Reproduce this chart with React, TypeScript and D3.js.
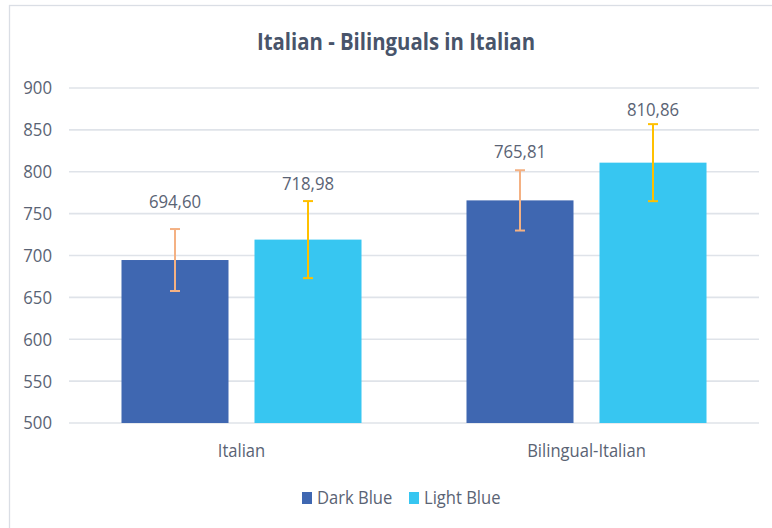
import React, { useEffect, useRef } from "react";
import * as d3 from "d3";

const categories = ["Italian", "Bilingual-Italian"];
const seriesNames = ["Dark Blue", "Light Blue"];
const darkBlueValues = [694.6, 765.81];
const lightBlueValues = [718.98, 810.86];
const darkBlueErrors = [37, 36];
const lightBlueErrors = [46, 46];
const yTickValues = [500, 550, 600, 650, 700, 750, 800, 850, 900];
const titleText = "Italian - Bilinguals in Italian";

const W = 772;
const H = 528;
const FONT = "'Open Sans', 'Noto Sans', sans-serif";
const TEXT_COLOR = "#5a6374";
const TITLE_COLOR = "#48546a";
const seriesColors = ["#3f67b1", "#37c6f1"];
const errorColors = ["#f4b183", "#ffc000"];
const labelGaps = [[21, 12], [11, 8]];

const locale = d3.formatLocale({ decimal: ",", thousands: ".", grouping: [3], currency: ["", "€"] });
const fmt = locale.format(".2f");

export default function App() {
  const ref = useRef<SVGSVGElement | null>(null);

  useEffect(() => {
    const svg = d3.select(ref.current);
    svg.selectAll("*").remove();

    const plotLeft = 69, plotRight = 759, plotTop = 88, plotBottom = 423;

    const y = d3.scaleLinear().domain([500, 900]).range([plotBottom, plotTop]);
    const x0 = d3.scaleBand<string>().domain(categories).range([plotLeft, plotRight]).padding(0);
    const x1 = d3.scaleBand<string>().domain(seriesNames).range([0, x0.bandwidth()])
      .paddingInner(0.1955).paddingOuter(0.3947);

    // chart border
    svg.append("rect").attr("x", 9.5).attr("y", 5.5).attr("width", 820).attr("height", 600)
      .attr("fill", "#ffffff").attr("stroke", "#dadee5").attr("stroke-width", 1.3);

    // gridlines
    svg.append("g").selectAll("line").data(yTickValues).join("line")
      .attr("x1", plotLeft).attr("x2", plotRight)
      .attr("y1", (d) => y(d)).attr("y2", (d) => y(d))
      .attr("stroke", "#dfe3e9").attr("stroke-width", 1.6);

    const squeeze = (sel: any, factor: number) => {
      sel.each(function (this: SVGTextElement) {
        const len = this.getComputedTextLength();
        this.setAttribute("textLength", String(len * factor));
        this.setAttribute("lengthAdjust", "spacingAndGlyphs");
      });
    };

    // y tick labels
    const yt = svg.append("g").selectAll("text").data(yTickValues).join("text")
      .attr("x", 52).attr("y", (d) => y(d)).attr("dy", "0.36em")
      .attr("text-anchor", "end").attr("font-family", FONT).attr("font-size", 18)
      .attr("fill", TEXT_COLOR).text((d) => String(d));
    squeeze(yt, 0.93);

    const seriesData = [
      { name: seriesNames[0], values: darkBlueValues, errors: darkBlueErrors },
      { name: seriesNames[1], values: lightBlueValues, errors: lightBlueErrors },
    ];

    seriesData.forEach((s, si) => {
      const g = svg.append("g");
      const items = categories.map((c, ci) => ({ c, v: s.values[ci], e: s.errors[ci], ci }));
      g.selectAll("rect").data(items).join("rect")
        .attr("x", (d) => x0(d.c)! + x1(s.name)!)
        .attr("width", x1.bandwidth())
        .attr("y", (d) => y(d.v))
        .attr("height", (d) => y(500) - y(d.v))
        .attr("fill", seriesColors[si]);

      const cx = (d: any) => x0(d.c)! + x1(s.name)! + x1.bandwidth() / 2;
      const eg = g.append("g").attr("stroke", errorColors[si]).attr("stroke-width", 2);
      eg.selectAll("line.v").data(items).join("line").attr("class", "v")
        .attr("x1", cx).attr("x2", cx)
        .attr("y1", (d) => y(d.v + d.e)).attr("y2", (d) => y(d.v - d.e));
      eg.selectAll("line.t").data(items).join("line").attr("class", "t")
        .attr("x1", (d) => cx(d) - 5).attr("x2", (d) => cx(d) + 5)
        .attr("y1", (d) => y(d.v + d.e)).attr("y2", (d) => y(d.v + d.e));
      eg.selectAll("line.b").data(items).join("line").attr("class", "b")
        .attr("x1", (d) => cx(d) - 5).attr("x2", (d) => cx(d) + 5)
        .attr("y1", (d) => y(d.v - d.e)).attr("y2", (d) => y(d.v - d.e));

      const lt = g.selectAll("text").data(items).join("text")
        .attr("x", cx)
        .attr("y", (d) => y(d.v + d.e) - labelGaps[si][d.ci])
        .attr("text-anchor", "middle").attr("font-family", FONT).attr("font-size", 18)
        .attr("fill", TEXT_COLOR).text((d) => fmt(d.v));
      squeeze(lt, 0.93);
    });

    // category labels
    const ct = svg.append("g").selectAll("text").data(categories).join("text")
      .attr("x", (d) => x0(d)! + x0.bandwidth() / 2).attr("y", 457)
      .attr("text-anchor", "middle").attr("font-family", FONT).attr("font-size", 18)
      .attr("fill", TEXT_COLOR).text((d) => d);
    squeeze(ct, 0.92);

    // title
    const tt = svg.append("text").attr("x", 396).attr("y", 50).attr("text-anchor", "middle")
      .attr("font-family", FONT).attr("font-size", 24).attr("font-weight", 700)
      .attr("fill", TITLE_COLOR).text(titleText);
    tt.attr("textLength", 278).attr("lengthAdjust", "spacingAndGlyphs");

    // legend
    const legendX = [302, 409];
    const lg = svg.append("g");
    seriesNames.forEach((n, i) => {
      lg.append("rect").attr("x", legendX[i]).attr("y", 492).attr("width", 10).attr("height", 12)
        .attr("fill", seriesColors[i]);
      const t = lg.append("text").attr("x", legendX[i] + 15).attr("y", 504)
        .attr("font-family", FONT).attr("font-size", 18).attr("fill", TEXT_COLOR).text(n);
      squeeze(t, 0.92);
    });
  }, []);

  return (
    <svg ref={ref} width={W} height={H} style={{ position: "absolute", left: 0, top: 0, background: "#fff" }} />
  );
}
